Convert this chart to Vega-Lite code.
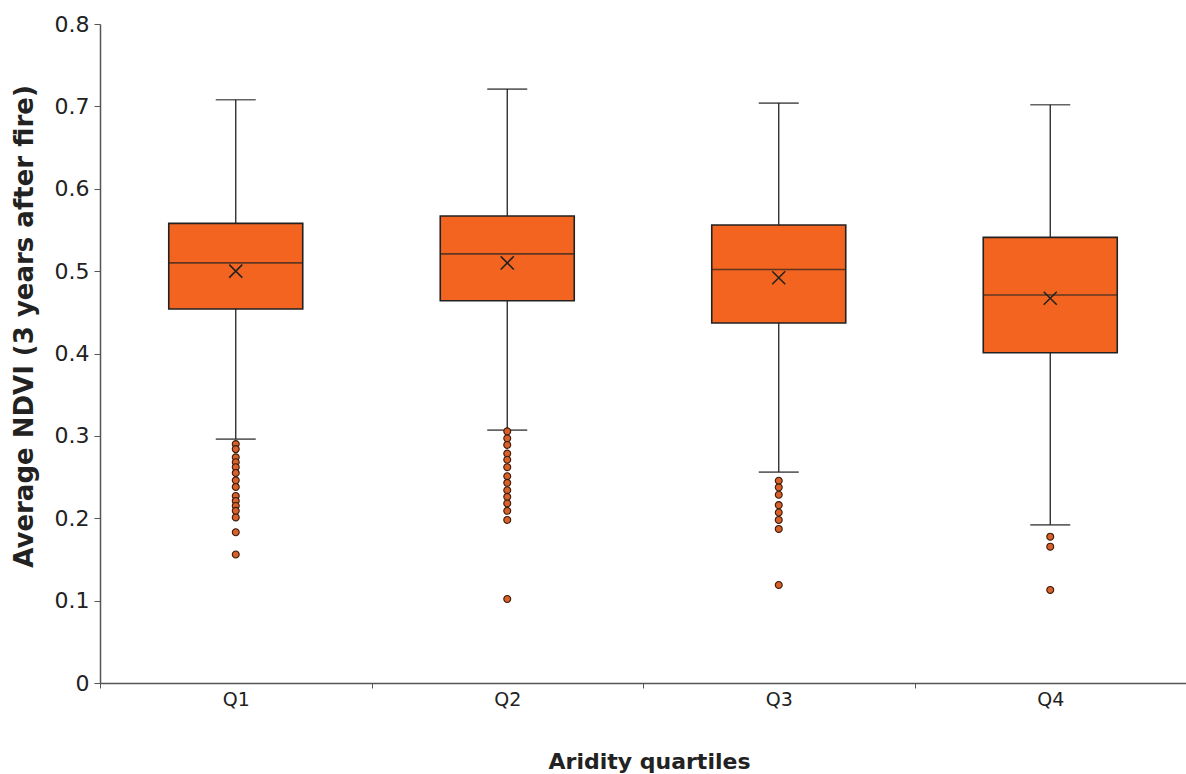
{
  "$schema": "https://vega.github.io/schema/vega-lite/v6.json",
  "width": 1086,
  "height": 659,
  "autosize": {"type": "none"},
  "padding": {"left": 100, "top": 24, "right": 0, "bottom": 91},
  "background": "white",
  "config": {
    "view": {"stroke": null},
    "axis": {"grid": false, "domainColor": "#555", "tickColor": "#555", "labelColor": "#222", "titleColor": "#222"}
  },
  "datasets": {
    "boxes": [
      {"quartile": "Q1", "low": 0.296, "q1": 0.454, "median": 0.510, "q3": 0.558, "high": 0.708, "mean": 0.500},
      {"quartile": "Q2", "low": 0.307, "q1": 0.464, "median": 0.521, "q3": 0.567, "high": 0.721, "mean": 0.510},
      {"quartile": "Q3", "low": 0.256, "q1": 0.437, "median": 0.502, "q3": 0.556, "high": 0.704, "mean": 0.492},
      {"quartile": "Q4", "low": 0.192, "q1": 0.401, "median": 0.471, "q3": 0.541, "high": 0.702, "mean": 0.467}
    ],
    "outliers": [
      {"quartile": "Q1", "value": 0.290}, {"quartile": "Q1", "value": 0.284}, {"quartile": "Q1", "value": 0.274},
      {"quartile": "Q1", "value": 0.268}, {"quartile": "Q1", "value": 0.262}, {"quartile": "Q1", "value": 0.255},
      {"quartile": "Q1", "value": 0.246}, {"quartile": "Q1", "value": 0.238}, {"quartile": "Q1", "value": 0.227},
      {"quartile": "Q1", "value": 0.221}, {"quartile": "Q1", "value": 0.215}, {"quartile": "Q1", "value": 0.209},
      {"quartile": "Q1", "value": 0.201}, {"quartile": "Q1", "value": 0.183}, {"quartile": "Q1", "value": 0.156},
      {"quartile": "Q2", "value": 0.3055}, {"quartile": "Q2", "value": 0.297}, {"quartile": "Q2", "value": 0.289},
      {"quartile": "Q2", "value": 0.2785}, {"quartile": "Q2", "value": 0.271}, {"quartile": "Q2", "value": 0.262},
      {"quartile": "Q2", "value": 0.251}, {"quartile": "Q2", "value": 0.243}, {"quartile": "Q2", "value": 0.234},
      {"quartile": "Q2", "value": 0.226}, {"quartile": "Q2", "value": 0.218}, {"quartile": "Q2", "value": 0.209},
      {"quartile": "Q2", "value": 0.198}, {"quartile": "Q2", "value": 0.102},
      {"quartile": "Q3", "value": 0.2455}, {"quartile": "Q3", "value": 0.2375}, {"quartile": "Q3", "value": 0.2285},
      {"quartile": "Q3", "value": 0.216}, {"quartile": "Q3", "value": 0.207}, {"quartile": "Q3", "value": 0.198},
      {"quartile": "Q3", "value": 0.187}, {"quartile": "Q3", "value": 0.119},
      {"quartile": "Q4", "value": 0.1776}, {"quartile": "Q4", "value": 0.1655}, {"quartile": "Q4", "value": 0.113}
    ]
  },
  "encoding": {
    "x": {
      "field": "quartile", "type": "nominal",
      "scale": {"paddingInner": 0, "paddingOuter": 0},
      "axis": {
        "title": "Aridity quartiles", "labelAngle": 0, "labelFont": "DejaVu Sans", "labelFontSize": 19,
        "labelPadding": 2, "tickBand": "extent", "tickSize": 5, "domainWidth": 1.5,
        "titleFont": "DejaVu Sans", "titleFontSize": 22, "titleFontWeight": "bold", "titlePadding": 42, "titleX": 549
      }
    }
  },
  "layer": [
    {
      "data": {"name": "boxes"},
      "mark": {"type": "rule", "color": "#222", "strokeWidth": 1.3},
      "encoding": {
        "y": {
          "field": "low", "type": "quantitative",
          "scale": {"domain": [0, 0.8], "nice": false},
          "axis": {
            "title": "Average NDVI (3 years after fire)", "values": [0, 0.1, 0.2, 0.3, 0.4, 0.5, 0.6, 0.7, 0.8],
            "labelExpr": "datum.value == 0 ? '0' : format(datum.value, '.1f')",
            "labelFont": "DejaVu Sans", "labelFontSize": 22, "labelPadding": 5, "tickSize": 6, "domainWidth": 1.5,
            "titleFont": "DejaVu Sans", "titleFontSize": 26, "titleFontWeight": "bold", "titlePadding": 17, "titleY": 302
          }
        },
        "y2": {"field": "high"}
      }
    },
    {
      "data": {"name": "boxes"},
      "mark": {"type": "bar", "width": 134, "fill": "#f2641f", "stroke": "#222", "strokeWidth": 1.6},
      "encoding": {"y": {"field": "q1", "type": "quantitative"}, "y2": {"field": "q3"}}
    },
    {
      "data": {"name": "boxes"},
      "mark": {"type": "tick", "size": 134, "thickness": 1.6, "color": "#222"},
      "encoding": {"y": {"field": "median", "type": "quantitative"}}
    },
    {
      "data": {"name": "boxes"},
      "mark": {"type": "tick", "size": 40, "thickness": 1.6, "color": "#222"},
      "encoding": {"y": {"field": "high", "type": "quantitative"}}
    },
    {
      "data": {"name": "boxes"},
      "mark": {"type": "tick", "size": 40, "thickness": 1.6, "color": "#222"},
      "encoding": {"y": {"field": "low", "type": "quantitative"}}
    },
    {
      "data": {"name": "boxes"},
      "mark": {"type": "point", "shape": "M-1,-1L1,1M-1,1L1,-1", "size": 170, "filled": false, "stroke": "#222", "strokeWidth": 1.5, "opacity": 1},
      "encoding": {"y": {"field": "mean", "type": "quantitative"}}
    },
    {
      "data": {"name": "outliers"},
      "mark": {"type": "point", "shape": "circle", "size": 48, "filled": true, "fill": "#d8612b", "stroke": "#3a1a0a", "strokeWidth": 1.1, "opacity": 1},
      "encoding": {"y": {"field": "value", "type": "quantitative"}}
    }
  ]
}
